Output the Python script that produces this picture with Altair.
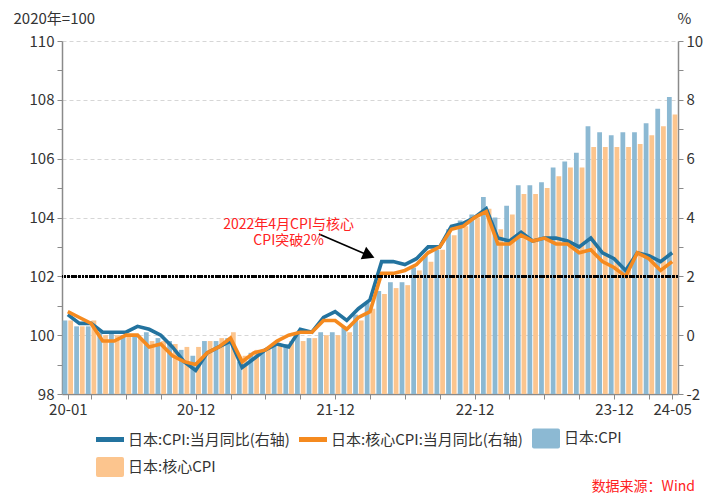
import altair as alt
import pandas as pd

FONT = "Noto Sans CJK SC"

months = [f"{y}-{m:02d}" for y in ["20", "21", "22", "23", "24"] for m in range(1, 13)][:53]

cpi_index = [100.5, 100.3, 100.3, 100.1, 100.1, 100.0, 100.0, 100.1, 99.9, 99.8, 99.5, 99.3,
             99.8, 99.8, 99.9, 99.1, 99.4, 99.5, 99.7, 99.7, 100.1, 99.9, 100.1, 100.1,
             100.3, 100.7, 101.1, 101.5, 101.8, 101.8, 102.3, 102.7, 102.9, 103.6, 103.9, 104.1,
             104.7, 104.0, 104.4, 105.1, 105.1, 105.2, 105.7, 105.9, 106.2, 107.1, 106.9, 106.8,
             106.9, 106.9, 107.2, 107.7, 108.1]
core_index = [100.5, 100.3, 100.5, 100.0, 100.0, 100.0, 99.9, 99.8, 99.8, 99.7, 99.6, 99.6,
              99.8, 99.9, 100.1, 99.3, 99.5, 99.6, 99.7, 99.8, 99.8, 99.9, 100.0, 100.0,
              100.1, 100.5, 100.9, 101.4, 101.6, 101.7, 102.2, 102.5, 102.9, 103.4, 103.7, 104.0,
              104.3, 103.6, 104.1, 104.8, 104.8, 105.0, 105.4, 105.7, 105.7, 106.4, 106.4, 106.4,
              106.4, 106.5, 106.8, 107.1, 107.5]
cpi_yoy = [0.7, 0.4, 0.4, 0.1, 0.1, 0.1, 0.3, 0.2, 0.0, -0.4, -0.9, -1.2,
           -0.6, -0.4, -0.2, -1.1, -0.8, -0.5, -0.3, -0.4, 0.2, 0.1, 0.6, 0.8,
           0.5, 0.9, 1.2, 2.5, 2.5, 2.4, 2.6, 3.0, 3.0, 3.7, 3.8, 4.0,
           4.3, 3.3, 3.2, 3.5, 3.2, 3.3, 3.3, 3.2, 3.0, 3.3, 2.8, 2.6,
           2.2, 2.8, 2.7, 2.5, 2.8]
core_yoy = [0.8, 0.6, 0.4, -0.2, -0.2, 0.0, 0.0, -0.4, -0.3, -0.7, -0.9, -1.0,
            -0.6, -0.4, -0.1, -0.9, -0.6, -0.5, -0.2, 0.0, 0.1, 0.1, 0.5, 0.5,
            0.2, 0.6, 0.8, 2.1, 2.1, 2.2, 2.4, 2.8, 3.0, 3.6, 3.7, 4.0,
            4.2, 3.1, 3.1, 3.4, 3.2, 3.3, 3.1, 3.1, 2.8, 2.9, 2.5, 2.3,
            2.0, 2.8, 2.6, 2.2, 2.5]

series_names = ["日本:CPI:当月同比(右轴)", "日本:核心CPI:当月同比(右轴)", "日本:CPI", "日本:核心CPI"]
series_colors = ["#23739f", "#f58a1f", "#8cb9d3", "#fcc58e"]

tick_months = ["20-01", "20-03", "20-06", "20-09", "20-12", "21-03", "21-06", "21-09", "21-12",
               "22-03", "22-06", "22-09", "22-12", "23-03", "23-06", "23-09", "23-12", "24-03", "24-05"]
label_months = ["20-01", "20-12", "21-12", "22-12", "23-12", "24-05"]

annotation_text = "2022年4月CPI与核心\nCPI突破2%"
source_text = "数据来源：Wind"
threshold = 2

idx = list(range(len(months)))
bars_df = pd.DataFrame({
    "idx": idx * 2,
    "month": months * 2,
    "series": [series_names[2]] * len(months) + [series_names[3]] * len(months),
    "value": cpi_index + core_index,
})
lines_df = pd.DataFrame({
    "idx": idx * 2,
    "month": months * 2,
    "series": [series_names[0]] * len(months) + [series_names[1]] * len(months),
    "yoy": cpi_yoy + core_yoy,
})
legend_df = pd.DataFrame({"series": series_names})
arrow_df = pd.DataFrame({"idx": [21.6, 25.7], "yoy": [3.44, 2.74]})
head_df = pd.DataFrame({"idx": [25.75], "yoy": [2.74]})
text_df = pd.DataFrame({"idx": [19.0], "yoy": [3.76], "t": [annotation_text]})

tick_vals = [months.index(m) for m in tick_months]
label_expr = " : ".join(
    [f"datum.value == {months.index(m)} ? '{m}'" for m in label_months]) + " : ''"

x_scale = alt.Scale(domain=[-0.5, len(months) - 0.5], nice=False, zero=False)
left_scale = alt.Scale(domain=[98, 110], nice=False, zero=False)
right_scale = alt.Scale(domain=[-2, 10], nice=False, zero=False)
color_scale = alt.Scale(domain=series_names, range=series_colors)

LINE_SYM = "M-1,-0.18L1,-0.18L1,0.18L-1,0.18Z"
BOX_SYM = ("M-0.86,-0.72L0.86,-0.72Q1,-0.72 1,-0.58L1,0.58Q1,0.72 0.86,0.72"
           "L-0.86,0.72Q-1,0.72 -1,0.58L-1,-0.58Q-1,-0.72 -0.86,-0.72Z")
shape_scale = alt.Scale(domain=series_names, range=[LINE_SYM, LINE_SYM, BOX_SYM, BOX_SYM])

AX_COL = "#8a8a8a"
x_axis = alt.Axis(orient="bottom", values=tick_vals, labelExpr=label_expr, title=None, grid=False,
                  tickSize=5, tickColor=AX_COL, domainColor=AX_COL, domainWidth=1.5,
                  labelFontSize=15, labelColor="#333333", labelPadding=3,
                  labelFlush=False, labelOverlap=False)
left_axis = alt.Axis(orient="left", values=list(range(98, 111)),
                     labelExpr="datum.value % 2 === 0 ? '' + datum.value : ''",
                     title="2020年=100", titleAngle=0, titleAlign="left", titleBaseline="middle",
                     titleX=-49, titleY=-23, titleFontSize=15, titleFontWeight="normal",
                     titleColor="#333333",
                     tickSize=5, tickColor=AX_COL, domainColor=AX_COL, domainWidth=1.5,
                     labelFontSize=15, labelColor="#333333", labelPadding=3,
                     grid=True, gridDash=[4, 3], gridColor="#d6d6d6",
                     gridOpacity={"condition": {"test": "datum.value % 2 === 0 && datum.value > 98", "value": 1}, "value": 0})
right_axis = alt.Axis(orient="right", values=list(range(-2, 11)),
                      labelExpr="datum.value % 2 === 0 ? '' + datum.value : ''",
                      title="%", titleAngle=0, titleAlign="center", titleBaseline="middle",
                      titleX=6, titleY=-23, titleFontSize=15, titleFontWeight="normal",
                      titleColor="#333333",
                      tickSize=5, tickColor=AX_COL, domainColor=AX_COL, domainWidth=1.5,
                      labelFontSize=15, labelColor="#333333", labelPadding=3, grid=False)

legend = alt.Legend(
    title=None, orient="none", legendX=34, legendY=383, direction="horizontal", columns=3,
    labelFontSize=15, labelColor="#333333", labelFont=FONT, labelLimit=400,
    symbolSize=784, labelOffset=4, columnPadding=9, rowPadding=4,
    symbolStrokeWidth=0, symbolOpacity=1,
)

legend_layer = alt.Chart(legend_df).transform_filter("false").mark_point(
    filled=True, opacity=1).encode(
    color=alt.Color("series:N", scale=color_scale, legend=legend),
    shape=alt.Shape("series:N", scale=shape_scale, legend=legend),
)

bars = alt.Chart(bars_df).transform_calculate(
    x_lo=f"datum.idx + (datum.series == '{series_names[2]}' ? -0.45 : 0.04)",
    x_hi=f"datum.idx + (datum.series == '{series_names[2]}' ? -0.04 : 0.45)",
).mark_bar().encode(
    x=alt.X("x_lo:Q", scale=x_scale, axis=x_axis),
    x2="x_hi:Q",
    y=alt.Y("value:Q", scale=left_scale, axis=left_axis),
    y2=alt.Y2Datum(98),
    color=alt.Color("series:N", scale=color_scale, legend=legend),
)

lines = alt.Chart(lines_df).mark_line(strokeWidth=3.6).encode(
    x=alt.X("idx:Q", scale=x_scale, axis=x_axis),
    y=alt.Y("yoy:Q", scale=right_scale, axis=right_axis),
    color=alt.Color("series:N", scale=color_scale, legend=legend),
    order=alt.Order("idx:Q"),
)

rule = alt.Chart(lines_df).mark_rule(color="black", strokeWidth=2.6, strokeDash=[2, 1.6]).encode(
    y=alt.YDatum(threshold, scale=right_scale, axis=right_axis),
)

arrow = alt.Chart(arrow_df).mark_line(color="black", strokeWidth=1.6).encode(
    x=alt.X("idx:Q", scale=x_scale, axis=x_axis),
    y=alt.Y("yoy:Q", scale=right_scale, axis=right_axis),
)
head = alt.Chart(head_df).mark_point(shape="triangle", filled=True, color="black",
                                     size=190, angle=113, opacity=1).encode(
    x=alt.X("idx:Q", scale=x_scale, axis=x_axis),
    y=alt.Y("yoy:Q", scale=right_scale, axis=right_axis),
)
note = alt.Chart(text_df).mark_text(color="#ff2222", fontSize=14, lineBreak="\n",
                                    lineHeight=16, align="center", baseline="middle",
                                    font=FONT).encode(
    x=alt.X("idx:Q", scale=x_scale, axis=x_axis),
    y=alt.Y("yoy:Q", scale=right_scale, axis=right_axis),
    text="t:N",
)

right_group = alt.layer(lines, rule, arrow, head, note)

chart = alt.layer(legend_layer, bars, right_group).resolve_scale(y="independent").properties(
    width=616, height=353,
    autosize=alt.AutoSizeParams(type="none"),
    padding={"left": 54, "top": 33, "right": 33, "bottom": 106},
    title=alt.TitleParams(source_text, orient="bottom", anchor="end", frame="group",
                          color="#ff2222", fontSize=14, fontWeight="normal", font=FONT,
                          dx=17, offset=2),
).configure(font=FONT).configure_view(stroke=None).configure_axis(
    labelFont=FONT, titleFont=FONT
)

chart.save("out.html", embed_options={"renderer": "svg", "actions": False})
